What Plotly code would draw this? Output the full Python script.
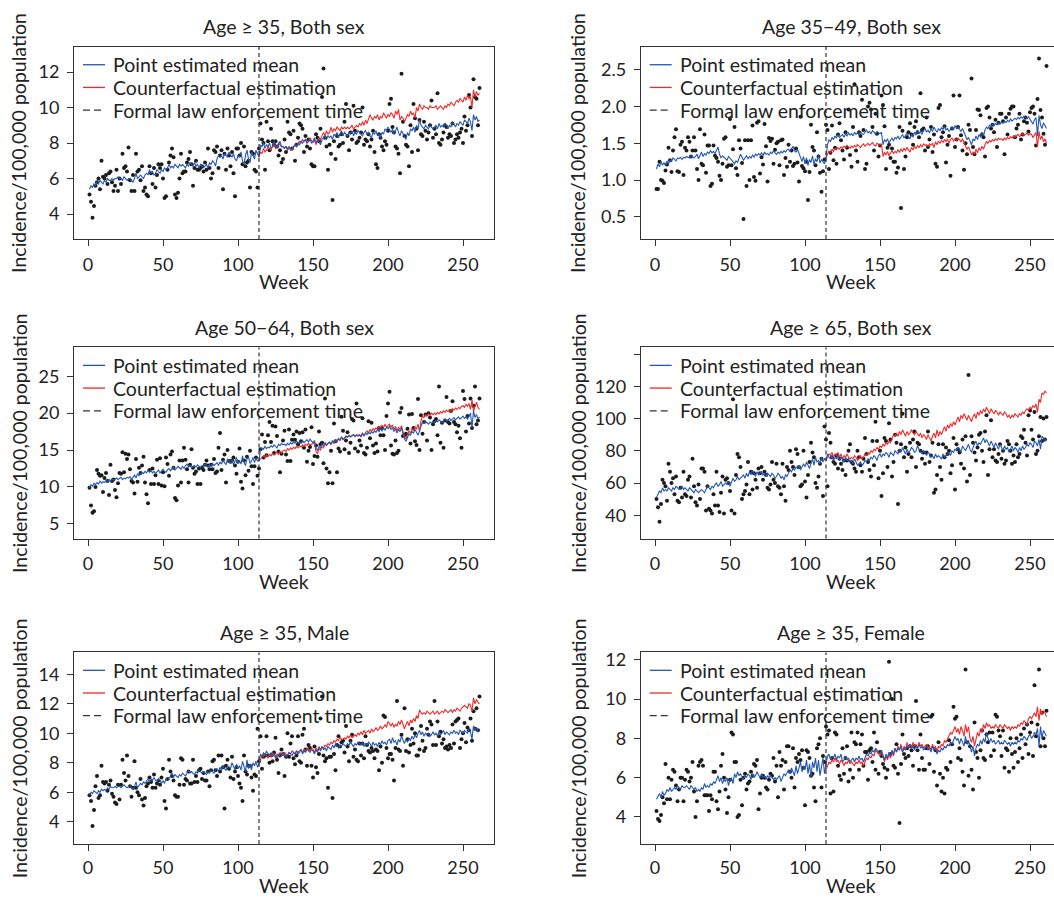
import plotly.graph_objects as go

# ---------------- data ----------------
WEEKS = list(range(1, 262))
ENFORCE_WEEK = 114          # formal law enforcement time
CF_START = 114              # counterfactual series starts here
X_TICKS = [0, 50, 100, 150, 200, 250]

TITLES = ["Age \u2265 35, Both sex", "Age 35\u221249, Both sex",
          "Age 50\u221264, Both sex", "Age \u2265 65, Both sex",
          "Age \u2265 35, Male", "Age \u2265 35, Female"]

# ---- Age >= 35, Both sex ----
OBS_ALL = [
    5.1, 4.7, 3.8, 4.45, 5.6, 5.8, 6.0, 5.4, 7.0, 6.1,
    6.0, 6.2, 5.7, 6.3, 6.4, 5.8, 5.3, 5.6, 6.5, 5.3,
    6.0, 5.7, 7.4, 6.6, 6.7, 6.4, 7.75, 5.9, 5.3, 6.2,
    5.3, 7.4, 6.4, 6.5, 5.9, 6.7, 5.3, 5.5, 5.1, 5.0,
    6.7, 6.3, 5.7, 6.6, 5.5, 6.2, 6.8, 6.6, 6.8, 6.0,
    4.9, 5.0, 6.5, 6.9, 7.3, 7.7, 7.2, 5.1, 4.9, 5.2,
    6.0, 7.4, 6.3, 6.4, 6.4, 6.9, 7.1, 7.5, 6.8, 5.6,
    6.6, 7.0, 6.5, 6.5, 6.6, 6.7, 6.4, 6.9, 6.5, 7.7,
    6.6, 6.0, 6.3, 7.6, 7.5, 7.8, 6.6, 7.3, 7.6, 5.4,
    7.4, 6.5, 7.7, 7.3, 6.7, 7.5, 6.3, 5.0, 7.7, 7.7,
    7.3, 8.0, 6.8, 7.8, 6.7, 6.9, 7.0, 5.5, 7.5, 7.4,
    6.5, 6.4, 5.5, 7.7,
    9.1, 8.2, 8.0, 6.5, 9.2, 8.1,
    7.6, 8.8, 8.1, 7.9, 8.1, 7.8, 7.3, 7.6, 6.9, 7.1,
    8.2, 7.5, 9.2, 8.6, 8.5, 7.7, 8.7, 7.0, 7.9, 8.3,
    9.1, 9.0, 8.8, 7.5, 8.4, 7.8, 8.2, 7.7, 6.8, 6.7,
    6.7, 8.5, 8.3, 8.1, 8.8, 10.6, 12.2, 8.3, 7.8, 6.5,
    7.9, 7.4, 4.8, 8.1, 7.1, 8.4, 7.8, 7.9, 8.5, 8.0,
    9.2, 10.2, 8.4, 7.6, 8.6, 8.2, 10.1, 8.7, 8.0, 8.1,
    8.3, 8.6, 10.0, 7.9, 8.2, 8.1, 8.5, 7.8, 8.2, 8.7,
    7.5, 6.8, 6.6, 8.5, 8.3, 7.8, 7.6, 8.1, 7.9, 8.7,
    10.2, 10.5, 8.9, 8.6, 7.8, 7.7, 7.4, 6.3, 11.9, 9.2,
    8.4, 7.9, 7.8, 6.7, 9.0, 7.5, 10.2, 9.4, 8.8, 7.6,
    9.3, 8.5, 8.4, 9.2, 8.7, 8.2, 8.6, 9.0, 10.4, 8.3,
    8.8, 8.5, 10.8, 8.0, 7.9, 8.2, 8.6, 9.0, 8.9, 8.3,
    8.5, 8.4, 9.1, 8.0, 8.2, 8.5, 8.3, 8.6, 8.8, 8.0,
    9.5, 8.7, 9.0, 10.7, 10.0, 8.4, 11.6, 10.6, 10.5, 9.0, 11.1]
MEAN_ALL = [
    5.4, 5.6, 5.5, 5.7, 5.6, 5.8, 5.7, 5.9, 5.8, 5.7,
    5.9, 5.8, 6.0, 5.9, 5.9, 6.0, 5.9, 6.0, 6.0, 6.1,
    6.0, 6.0, 5.9, 6.1, 6.0, 5.9, 6.0, 6.0, 5.9, 5.8,
    6.0, 6.3, 6.0, 6.1, 6.2, 6.1, 6.0, 6.2, 6.3, 6.2,
    6.5, 6.3, 6.4, 6.2, 6.3, 6.5, 6.4, 6.3, 6.5, 6.4,
    6.6, 6.5, 6.6, 6.8, 6.6, 6.7, 6.6, 6.8, 6.7, 6.6,
    6.8, 6.7, 6.8, 6.7, 6.6, 6.8, 6.7, 6.9, 6.8, 6.7,
    6.9, 6.7, 6.8, 6.6, 6.8, 6.7, 6.6, 6.7, 6.8, 6.6,
    6.9, 6.8, 7.0, 6.9, 6.7, 7.1, 7.3, 7.2, 7.3, 7.1,
    7.4, 7.3, 7.2, 7.5, 7.3, 7.2, 7.4, 7.1, 7.0, 7.3,
    7.2, 7.5, 7.0, 6.8, 7.3, 7.6, 7.1, 6.9, 7.5, 7.3,
    7.1, 7.6, 7.4, 7.2,
    7.9, 7.8, 8.0, 7.7, 7.9, 7.8,
    8.0, 7.7, 7.8, 8.1, 7.9, 7.7, 7.9, 8.1, 7.8, 7.8,
    7.7, 7.8, 7.7, 7.8, 7.6, 7.7, 7.8, 7.9, 7.8, 8.0,
    7.9, 8.1, 8.0, 8.1, 8.2, 8.0, 8.1, 8.2, 8.0, 8.1,
    8.3, 8.0, 8.2, 8.1, 7.9, 8.2, 8.3, 8.4, 8.2, 8.4,
    8.3, 8.4, 8.2, 8.5, 8.4, 8.6, 8.3, 8.5, 8.7, 8.4,
    8.6, 8.5, 8.4, 8.6, 8.5, 8.7, 8.4, 8.6, 8.5, 8.7,
    8.6, 8.5, 8.4, 8.6, 8.7, 8.5, 8.6, 8.4, 8.3, 8.6,
    8.5, 8.7, 8.4, 8.5, 8.3, 8.6, 8.5, 8.8, 8.7, 8.9,
    8.7, 8.6, 8.8, 8.5, 8.7, 8.9, 8.6, 8.4, 8.7, 8.5,
    8.3, 8.2, 8.6, 8.4, 8.8, 8.7, 8.9, 8.6, 9.0, 8.8,
    9.3, 9.0, 8.9, 8.8, 9.0, 8.9, 8.8, 9.0, 8.9, 8.8,
    8.9, 9.0, 8.8, 9.1, 8.9, 9.0, 8.9, 9.1, 9.0, 8.8,
    9.0, 8.9, 9.2, 9.0, 8.9, 9.1, 9.0, 9.2, 9.1, 9.0,
    9.3, 9.2, 9.1, 9.4, 9.2, 8.7, 9.6, 9.3, 9.5, 9.2, 9.3]
CF_ALL = [
    7.2,
    7.5, 7.4, 7.7, 7.5, 7.6, 7.8,
    7.7, 7.6, 7.8, 7.9, 7.7, 7.8, 8.0, 7.9, 7.8, 7.8,
    7.7, 7.8, 7.6, 7.7, 7.7, 7.6, 7.8, 7.9, 7.8, 8.0,
    8.1, 8.0, 8.2, 8.1, 8.2, 8.0, 8.1, 8.3, 8.1, 8.0,
    8.2, 7.9, 8.1, 8.3, 8.2, 8.4, 8.6, 8.4, 8.7, 8.5,
    8.6, 8.9, 8.6, 8.8, 8.7, 8.9, 8.8, 8.7, 8.9, 8.8,
    8.9, 8.8, 8.9, 8.8, 8.9, 9.0, 8.8, 8.9, 9.0, 8.9,
    9.1, 9.0, 9.2, 9.0, 9.3, 9.1, 9.3, 9.6, 9.4, 9.3,
    9.5, 9.4, 9.6, 9.3, 9.5, 9.4, 9.7, 9.5, 9.4, 9.6,
    9.5, 9.7, 9.6, 9.4, 9.8, 9.6, 9.9, 9.3, 9.5, 9.4,
    9.2, 9.4, 9.6, 9.5, 9.8, 9.6, 9.7, 9.4, 10.0, 9.8,
    10.2, 10.0, 9.9, 10.1, 10.0, 10.0, 9.9, 10.1, 10.0, 10.0,
    10.0, 10.1, 9.9, 10.0, 10.1, 10.0, 9.9, 10.1, 10.0, 10.2,
    10.1, 10.3, 10.2, 10.1, 10.3, 10.4, 10.3, 10.5, 10.4, 10.3,
    10.6, 10.4, 10.7, 10.5, 10.6, 10.0, 11.0, 10.6, 10.9, 10.7, 10.8]

# ---- Age 35-49, Both sex ----
OBS_3549 = [
    0.88, 0.88, 1.25, 1.00, 0.99, 0.96, 1.13, 1.21, 1.44, 1.27,
    1.11, 1.40, 1.58, 1.69, 1.12, 1.11, 1.48, 1.52, 1.07, 1.44,
    1.40, 1.58, 1.52, 1.32, 1.40, 1.58, 1.40, 1.15, 1.00, 1.69,
    1.22, 1.20, 1.62, 1.10, 1.47, 1.47, 0.92, 0.95, 1.47, 1.33,
    1.30, 1.25, 1.06, 1.00, 1.22, 1.56, 1.58, 1.18, 1.20, 1.83,
    1.20, 1.42, 1.72, 1.16, 1.07, 1.54, 1.43, 1.23, 0.47, 1.54,
    0.92, 1.54, 1.00, 1.54, 1.74, 1.04, 0.99, 1.78, 1.80, 1.09,
    1.31, 1.21, 1.76, 1.46, 0.98, 1.57, 1.53, 1.56, 1.22, 1.41,
    1.50, 1.52, 1.20, 1.54, 1.55, 1.07, 1.30, 1.18, 1.48, 1.25,
    1.40, 1.19, 1.22, 1.43, 1.24, 0.98, 1.86, 1.19, 1.16, 1.12,
    1.25, 0.73, 1.11, 1.75, 1.45, 1.40, 1.20, 1.65, 1.32, 1.10,
    0.84, 1.12, 1.28, 1.75,
    1.68, 1.15, 1.37, 1.74, 1.27, 1.44,
    1.22, 1.62, 1.77, 1.54, 1.40, 1.28, 1.65, 1.44, 1.96, 1.34,
    1.18, 1.72, 2.30, 1.40, 1.25, 1.65, 1.60, 2.09, 1.68, 1.15,
    1.22, 2.00, 2.05, 1.96, 1.72, 1.40, 1.90, 1.63, 1.32, 1.47,
    2.15, 2.02, 1.73, 1.15, 1.44, 1.48, 1.30, 1.43, 1.25, 1.25,
    1.10, 1.17, 1.72, 0.62, 1.67, 1.15, 1.32, 1.58, 1.65, 1.77,
    1.62, 1.48, 1.72, 1.80, 1.65, 1.58, 2.18, 1.68, 1.70, 1.40,
    1.85, 1.45, 1.55, 1.72, 1.38, 1.62, 1.22, 1.18, 1.98, 2.02,
    1.58, 1.65, 1.73, 1.24, 1.48, 1.60, 1.06, 1.70, 2.15, 1.45,
    1.55, 1.72, 2.15, 1.61, 1.40, 1.14, 1.50, 1.35, 1.75, 1.68,
    2.38, 1.45, 1.35, 1.68, 1.96, 1.95, 1.88, 1.62, 1.58, 1.32,
    1.98, 2.00, 1.85, 1.70, 1.75, 1.65, 1.82, 1.45, 1.78, 1.90,
    1.90, 1.80, 1.35, 1.85, 1.62, 1.90, 1.97, 2.00, 2.00, 1.58,
    1.70, 1.75, 1.90, 1.55, 1.62, 1.80, 1.85, 1.78, 1.66, 1.92,
    1.98, 2.00, 1.90, 1.47, 2.10, 2.65, 1.95, 1.85, 1.63, 1.48, 2.55]
MEAN_3549 = [
    1.15, 1.22, 1.18, 1.25, 1.20, 1.24, 1.19, 1.26, 1.22, 1.27,
    1.25, 1.30, 1.28, 1.26, 1.30, 1.29, 1.31, 1.28, 1.31, 1.30,
    1.32, 1.31, 1.30, 1.33, 1.31, 1.30, 1.32, 1.35, 1.29, 1.34,
    1.38, 1.32, 1.36, 1.34, 1.38, 1.36, 1.40, 1.37, 1.39, 1.36,
    1.42, 1.45, 1.35, 1.30, 1.33, 1.31, 1.29, 1.27, 1.32, 1.30,
    1.28, 1.25, 1.22, 1.26, 1.24, 1.30, 1.35, 1.31, 1.27, 1.30,
    1.33, 1.29, 1.32, 1.30, 1.34, 1.31, 1.35, 1.33, 1.36, 1.34,
    1.37, 1.33, 1.38, 1.35, 1.36, 1.34, 1.38, 1.36, 1.40, 1.37,
    1.35, 1.38, 1.36, 1.39, 1.37, 1.40, 1.38, 1.41, 1.42, 1.39,
    1.43, 1.46, 1.40, 1.38, 1.42, 1.36, 1.30, 1.25, 1.32, 1.22,
    1.30, 1.20, 1.28, 1.24, 1.33, 1.21, 1.29, 1.25, 1.35, 1.23,
    1.28, 1.25, 1.22, 1.30,
    1.48, 1.55, 1.52, 1.58, 1.55, 1.60,
    1.57, 1.62, 1.58, 1.60, 1.62, 1.58, 1.63, 1.60, 1.64, 1.61,
    1.63, 1.60, 1.65, 1.62, 1.64, 1.61, 1.66, 1.63, 1.62, 1.65,
    1.68, 1.64, 1.66, 1.63, 1.67, 1.65, 1.62, 1.66, 1.64, 1.63,
    1.65, 1.48, 1.55, 1.52, 1.56, 1.50, 1.54, 1.57, 1.53, 1.58,
    1.56, 1.60, 1.55, 1.58, 1.62, 1.57, 1.60, 1.64, 1.59, 1.56,
    1.62, 1.58, 1.65, 1.61, 1.68, 1.63, 1.66, 1.62, 1.67, 1.70,
    1.65, 1.68, 1.64, 1.70, 1.66, 1.72, 1.68, 1.65, 1.70, 1.67,
    1.71, 1.69, 1.73, 1.68, 1.70, 1.66, 1.69, 1.72, 1.68, 1.74,
    1.70, 1.72, 1.69, 1.66, 1.70, 1.65, 1.60, 1.55, 1.58, 1.52,
    1.48, 1.56, 1.53, 1.60, 1.55, 1.62, 1.58, 1.65, 1.60, 1.68,
    1.72, 1.70, 1.75, 1.72, 1.76, 1.74, 1.77, 1.75, 1.78, 1.76,
    1.79, 1.77, 1.80, 1.78, 1.81, 1.79, 1.83, 1.80, 1.82, 1.84,
    1.82, 1.85, 1.83, 1.86, 1.84, 1.87, 1.85, 1.83, 1.86, 1.82,
    1.80, 1.76, 1.82, 1.85, 1.60, 1.88, 1.75, 1.70, 1.78, 1.74, 1.70]
CF_3549 = [
    1.30,
    1.36, 1.40, 1.37, 1.42, 1.39, 1.43,
    1.41, 1.44, 1.42, 1.45, 1.43, 1.46, 1.44, 1.47, 1.45, 1.43,
    1.46, 1.44, 1.47, 1.45, 1.48, 1.46, 1.44, 1.47, 1.49, 1.46,
    1.48, 1.50, 1.47, 1.49, 1.51, 1.48, 1.46, 1.50, 1.48, 1.47,
    1.49, 1.32, 1.38, 1.34, 1.39, 1.33, 1.37, 1.40, 1.36, 1.39,
    1.37, 1.41, 1.38, 1.42, 1.39, 1.43, 1.40, 1.44, 1.41, 1.38,
    1.44, 1.41, 1.46, 1.43, 1.47, 1.44, 1.48, 1.45, 1.49, 1.47,
    1.48, 1.46, 1.49, 1.47, 1.50, 1.44, 1.52, 1.48, 1.53, 1.50,
    1.54, 1.51, 1.55, 1.52, 1.56, 1.50, 1.55, 1.57, 1.53, 1.56,
    1.54, 1.57, 1.55, 1.52, 1.56, 1.50, 1.46, 1.42, 1.45, 1.40,
    1.34, 1.38, 1.35, 1.42, 1.37, 1.44, 1.40, 1.46, 1.42, 1.48,
    1.52, 1.50, 1.54, 1.52, 1.55, 1.53, 1.56, 1.54, 1.57, 1.55,
    1.56, 1.54, 1.57, 1.55, 1.58, 1.56, 1.59, 1.57, 1.60, 1.58,
    1.60, 1.62, 1.59, 1.61, 1.63, 1.60, 1.62, 1.64, 1.61, 1.63,
    1.62, 1.58, 1.61, 1.65, 1.45, 1.66, 1.55, 1.60, 1.52, 1.56, 1.50]

# ---- Age 50-64, Both sex ----
OBS_5064 = [
    9.9, 7.5, 6.5, 6.7, 10.0, 12.3, 11.8, 11.5, 11.6, 9.3,
    11.2, 11.9, 10.8, 8.9, 13.0, 10.8, 11.0, 9.6, 8.6, 10.5,
    11.9, 11.8, 14.7, 12.0, 14.5, 13.8, 14.4, 12.4, 10.8, 10.6,
    9.1, 13.8, 10.7, 12.6, 11.9, 12.9, 14.1, 10.6, 9.0, 7.8,
    12.3, 10.4, 12.5, 10.4, 11.6, 13.7, 10.4, 13.9, 10.2, 12.0,
    10.1, 14.0, 13.1, 11.5, 14.4, 14.8, 12.6, 8.5, 8.2, 10.2,
    13.6, 10.6, 13.6, 15.3, 13.7, 12.4, 10.6, 13.0, 15.1, 12.6,
    11.8, 12.1, 10.4, 12.5, 10.4, 12.6, 12.3, 13.0, 13.6, 12.9,
    12.4, 13.0, 12.4, 13.8, 11.9, 12.1, 15.3, 17.3, 12.3, 13.7,
    14.4, 10.6, 15.0, 13.5, 13.4, 13.6, 14.0, 12.9, 11.8, 13.4,
    15.2, 10.7, 9.8, 13.6, 11.6, 14.1, 12.2, 14.9, 12.8, 10.4,
    12.8, 14.0, 11.5, 12.5,
    15.1, 17.1, 14.0, 16.1, 14.3, 17.0,
    18.8, 16.1, 18.3, 14.6, 18.2, 16.9, 14.8, 12.0, 14.5, 16.3,
    17.6, 14.4, 13.5, 17.8, 13.5, 16.4, 17.1, 16.4, 17.5, 15.8,
    17.3, 16.2, 17.4, 15.3, 17.8, 13.4, 14.9, 15.4, 18.1, 13.1,
    14.2, 15.6, 14.1, 17.5, 15.8, 16.0, 13.2, 22.0, 12.5, 10.5,
    12.0, 14.9, 10.5, 18.6, 16.2, 12.0, 15.2, 14.8, 19.5, 17.6,
    15.1, 16.3, 17.4, 14.6, 16.0, 19.2, 19.0, 15.2, 21.3, 14.8,
    16.3, 15.6, 19.3, 14.6, 14.4, 15.3, 18.9, 16.6, 18.7, 15.6,
    14.6, 15.9, 14.8, 18.0, 17.0, 18.0, 17.0, 15.0, 19.6, 21.3,
    22.9, 15.6, 14.5, 14.4, 16.3, 14.6, 14.9, 20.1, 20.7, 16.9,
    17.0, 17.2, 17.9, 19.8, 15.9, 19.9, 18.0, 16.2, 15.7, 21.9,
    15.0, 19.7, 17.2, 18.8, 19.8, 16.3, 20.0, 19.4, 15.0, 18.5,
    18.9, 19.2, 17.0, 23.6, 16.0, 18.7, 15.3, 19.0, 22.2, 18.8,
    18.6, 20.3, 21.6, 18.8, 18.5, 17.4, 18.3, 16.6, 15.3, 23.0,
    21.9, 17.5, 19.6, 18.6, 22.0, 18.0, 21.0, 23.6, 18.5, 19.0, 22.0]
MEAN_5064 = [
    9.9, 10.3, 10.1, 10.5, 10.3, 10.6, 10.4, 10.8, 10.5, 10.7,
    10.6, 10.9, 10.7, 11.0, 10.8, 11.1, 10.9, 11.0, 11.2, 11.0,
    11.1, 11.3, 11.0, 11.2, 11.1, 11.3, 11.2, 11.4, 11.0, 11.3,
    11.6, 11.2, 11.8, 11.5, 11.7, 12.0, 11.8, 12.1, 11.9, 12.3,
    12.0, 12.2, 11.9, 12.1, 11.8, 12.0, 12.3, 11.9, 12.2, 12.4,
    12.1, 12.0, 12.3, 12.5, 12.2, 12.4, 12.7, 12.3, 12.5, 12.8,
    12.6, 12.4, 12.8, 12.5, 12.9, 13.1, 12.7, 12.9, 12.6, 12.8,
    12.9, 12.7, 13.0, 12.8, 12.6, 12.9, 12.8, 13.1, 12.9, 12.7,
    13.0, 12.8, 13.2, 12.9, 13.1, 13.3, 12.9, 13.4, 13.1, 13.6,
    13.3, 13.0, 13.8, 13.4, 13.2, 13.7, 13.0, 13.5, 14.0, 13.2,
    13.6, 13.1, 14.2, 13.3, 12.9, 13.8, 14.1, 13.2, 13.5, 14.0,
    13.3, 13.9, 13.5, 13.6,
    15.0, 15.3, 15.1, 15.5, 15.2, 15.4,
    15.3, 15.6, 15.4, 15.7, 15.5, 15.3, 15.8, 15.6, 15.9, 15.7,
    15.8, 15.6, 15.9, 15.7, 16.0, 15.8, 16.1, 15.9, 16.2, 16.0,
    16.1, 15.9, 16.3, 16.0, 16.2, 16.4, 16.1, 16.5, 16.2, 16.0,
    16.3, 15.2, 15.0, 15.5, 15.3, 15.8, 15.6, 16.0, 15.7, 15.9,
    16.1, 15.8, 16.3, 16.0, 16.4, 16.2, 16.6, 16.3, 16.8, 16.5,
    16.6, 16.9, 16.7, 17.0, 16.8, 16.9, 17.1, 16.8, 17.0, 16.9,
    17.0, 16.8, 17.2, 16.9, 17.3, 17.1, 17.4, 17.2, 17.5, 17.3,
    17.6, 17.4, 17.8, 17.5, 17.9, 17.6, 18.0, 17.7, 18.1, 17.9,
    18.2, 17.8, 18.0, 17.5, 17.9, 17.3, 17.8, 17.5, 18.0, 17.2,
    16.5, 16.2, 16.8, 17.2, 17.0, 17.5, 17.3, 17.8, 17.4, 17.0,
    17.6, 18.3, 18.8, 18.6, 18.9, 18.7, 18.5, 18.8, 18.6, 18.9,
    18.7, 19.0, 18.8, 19.1, 18.9, 18.7, 19.0, 19.2, 18.9, 19.1,
    19.3, 19.0, 19.2, 19.4, 19.1, 19.3, 19.5, 19.2, 19.4, 19.6,
    19.3, 19.5, 19.2, 19.6, 20.0, 18.0, 20.3, 19.4, 19.8, 19.2, 19.5]
CF_5064 = [
    13.6,
    13.8, 14.0, 14.2, 14.0, 14.3, 14.1,
    14.4, 14.2, 14.6, 14.3, 14.5, 14.7, 14.4, 14.8, 14.6, 14.9,
    15.0, 14.8, 15.2, 15.0, 15.3, 15.1, 15.4, 15.2, 15.5, 15.3,
    15.6, 15.4, 15.7, 15.5, 15.8, 15.6, 15.9, 15.7, 15.8, 15.9,
    16.0, 14.8, 14.5, 15.2, 15.0, 15.5, 15.3, 15.8, 15.6, 15.9,
    16.0, 15.7, 16.2, 15.9, 16.3, 16.1, 16.5, 16.3, 16.7, 16.4,
    16.6, 16.9, 16.7, 17.0, 16.8, 17.0, 17.1, 16.9, 17.1, 17.0,
    17.1, 16.9, 17.3, 17.0, 17.4, 17.6, 17.3, 17.8, 17.5, 17.9,
    17.7, 18.0, 17.8, 18.2, 17.9, 18.4, 18.0, 18.5, 18.1, 18.3,
    18.5, 18.1, 18.4, 17.8, 18.2, 17.6, 18.1, 17.8, 18.3, 17.5,
    16.8, 16.5, 17.1, 17.6, 17.3, 17.9, 17.6, 18.2, 17.8, 18.5,
    17.5, 19.0, 19.6, 19.4, 19.8, 19.6, 19.9, 19.7, 20.0, 19.8,
    20.0, 19.8, 20.1, 19.9, 20.2, 20.0, 20.3, 20.1, 20.4, 20.2,
    20.5, 20.2, 20.6, 20.4, 20.7, 20.5, 20.8, 20.6, 20.9, 21.0,
    20.8, 21.2, 20.9, 21.3, 20.5, 21.8, 20.2, 21.0, 21.5, 20.8, 20.5]

# ---- Age >= 65, Both sex ----
OBS_65 = [
    50, 45, 36, 47, 62, 60, 58, 49, 72, 67,
    60, 63, 53, 64, 49, 48, 57, 51, 67, 53,
    52, 62, 64, 51, 75, 58, 48, 46, 59, 50,
    69, 69, 67, 43, 58, 44, 43, 41, 53, 46,
    67, 46, 42, 54, 64, 41, 62, 63, 60, 55,
    43, 112, 41, 65, 78, 76, 70, 50, 53, 55,
    59, 73, 53, 67, 56, 66, 62, 57, 69, 66,
    70, 62, 67, 65, 57, 56, 59, 73, 62, 60,
    72, 58, 57, 53, 72, 58, 49, 70, 68, 80,
    73, 70, 65, 81, 78, 70, 58, 59, 80, 61,
    51, 65, 73, 85, 79, 76, 60, 57, 64, 72,
    75, 52, 95, 87,
    58, 91, 85, 76, 73, 72,
    77, 69, 75, 72, 68, 74, 65, 74, 80, 84,
    73, 72, 69, 67, 80, 76, 71, 67, 75, 88,
    78, 73, 68, 64, 86, 71, 98, 86, 63, 80,
    52, 66, 88, 86, 70, 97, 87, 64, 73, 90,
    85, 47, 80, 84, 103, 76, 82, 67, 78, 85,
    76, 87, 92, 70, 85, 84, 80, 75, 79, 72,
    79, 92, 73, 77, 85, 54, 56, 65, 84, 70,
    62, 84, 76, 82, 78, 80, 66, 71, 88, 56,
    84, 81, 79, 72, 87, 69, 89, 61, 127, 65,
    89, 85, 79, 74, 82, 90, 91, 80, 73, 92,
    102, 65, 81, 99, 76, 81, 74, 73, 78, 84,
    75, 80, 72, 74, 86, 84, 80, 72, 77, 73,
    84, 76, 78, 89, 88, 93, 85, 77, 102, 105,
    93, 87, 104, 78, 80, 89, 101, 86, 100, 87, 101]
MEAN_65 = [
    51, 53, 55, 54, 57, 55, 56, 55, 57, 56,
    55, 57, 56, 58, 57, 56, 57, 58, 56, 57,
    56, 55, 57, 56, 55, 54, 56, 55, 54, 55,
    56, 55, 54, 56, 58, 57, 56, 58, 57, 59,
    60, 58, 59, 61, 58, 59, 60, 59, 61, 58,
    60, 63, 61, 62, 64, 62, 63, 64, 65, 63,
    66, 64, 67, 65, 68, 66, 64, 67, 65, 66,
    67, 65, 66, 64, 66, 65, 64, 66, 65, 63,
    64, 66, 65, 63, 64, 62, 65, 64, 66, 68,
    67, 69, 68, 70, 69, 71, 68, 70, 72, 70,
    73, 71, 69, 72, 75, 71, 76, 73, 74, 72,
    76, 73, 75, 74,
    78, 76, 75, 77, 74, 76,
    75, 77, 74, 76, 75, 73, 76, 74, 75, 73,
    74, 72, 75, 73, 71, 72, 73, 71, 72, 74,
    73, 75, 74, 76, 75, 77, 76, 74, 77, 78,
    76, 78, 77, 79, 78, 76, 79, 78, 77, 80,
    79, 78, 81, 79, 82, 80, 78, 81, 79, 80,
    82, 81, 79, 80, 83, 81, 79, 78, 80, 79,
    77, 79, 78, 76, 77, 75, 78, 76, 77, 76,
    75, 78, 76, 77, 78, 79, 77, 80, 79, 81,
    80, 82, 81, 79, 83, 81, 80, 82, 84, 81,
    79, 82, 84, 86, 83, 85, 84, 86, 88, 85,
    87, 85, 83, 86, 84, 82, 85, 83, 81, 84,
    82, 80, 83, 81, 82, 79, 81, 83, 80, 82,
    81, 79, 82, 80, 83, 81, 82, 84, 83, 85,
    84, 82, 86, 85, 83, 87, 81, 89, 88, 86, 87]
CF_65 = [
    74,
    76, 78, 77, 79, 76, 78,
    77, 79, 76, 78, 75, 77, 76, 78, 76, 75,
    76, 75, 77, 76, 74, 75, 77, 75, 76, 78,
    77, 79, 78, 80, 79, 81, 80, 82, 81, 83,
    82, 84, 83, 85, 84, 86, 85, 88, 90, 89,
    91, 89, 92, 90, 93, 91, 89, 92, 90, 91,
    93, 91, 90, 92, 90, 89, 91, 88, 90, 89,
    87, 90, 88, 86, 89, 91, 88, 93, 89, 92,
    90, 93, 95, 92, 96, 94, 97, 95, 98, 96,
    99, 101, 98, 102, 100, 103, 101, 99, 102, 100,
    98, 101, 103, 100, 104, 102, 105, 103, 106, 104,
    107, 105, 103, 106, 104, 103, 105, 104, 102, 104,
    103, 102, 104, 103, 101, 102, 100, 102, 101, 103,
    102, 101, 103, 102, 104, 103, 105, 106, 105, 107,
    106, 108, 107, 109, 104, 112, 110, 116, 115, 117, 116]

# ---- Age >= 35, Male ----
OBS_M = [
    5.8, 5.4, 3.7, 4.8, 6.4, 7.1, 5.6, 5.8, 7.8, 6.7,
    6.6, 6.7, 6.1, 6.5, 6.8, 5.9, 5.7, 5.3, 5.2, 6.5,
    5.5, 6.5, 8.2, 7.3, 6.8, 8.5, 7.1, 6.4, 5.7, 6.3,
    8.1, 6.3, 6.0, 5.8, 6.9, 5.5, 5.1, 5.6, 6.4, 6.6,
    7.0, 6.7, 6.3, 7.2, 6.3, 6.6, 6.8, 6.5, 7.0, 7.6,
    5.4, 4.9, 6.9, 8.2, 7.4, 7.1, 6.8, 5.8, 5.7, 5.7,
    6.5, 8.3, 8.2, 6.5, 6.9, 6.8, 7.4, 6.6, 6.6, 8.2,
    6.7, 7.1, 6.7, 7.5, 7.6, 6.9, 7.3, 6.8, 6.8, 7.4,
    6.4, 7.5, 8.1, 8.2, 7.5, 7.1, 8.5, 7.4, 8.5, 7.7,
    4.9, 7.8, 8.2, 7.6, 7.0, 8.4, 6.9, 7.4, 7.7, 7.1,
    6.6, 6.3, 5.4, 8.5, 7.4, 7.2, 7.8, 7.8, 7.0, 6.1,
    7.2, 7.1, 10.3, 8.1,
    9.8, 7.6, 8.4, 8.5, 9.8, 8.5,
    8.0, 8.5, 8.1, 8.7, 9.7, 8.2, 7.3, 8.5, 8.9, 8.6,
    7.1, 8.4, 10.0, 8.4, 9.3, 9.8, 8.3, 7.9, 8.5, 9.8,
    8.1, 8.0, 9.9, 10.3, 8.9, 7.8, 9.2, 9.0, 7.8, 7.0,
    9.1, 7.7, 7.3, 8.6, 11.0, 12.5, 8.5, 8.1, 8.3, 6.3,
    8.4, 8.4, 5.6, 8.6, 7.5, 9.2, 9.8, 9.1, 9.4, 9.5,
    8.7, 10.5, 9.1, 8.1, 9.5, 9.9, 8.4, 8.9, 8.2, 8.1,
    9.3, 8.5, 9.3, 8.3, 9.8, 9.2, 8.8, 8.7, 9.0, 8.8,
    8.3, 8.9, 8.8, 7.5, 9.1, 8.0, 11.2, 11.1, 9.0, 8.3,
    8.6, 8.6, 8.2, 6.8, 9.0, 12.2, 8.9, 8.8, 9.9, 7.8,
    11.7, 8.8, 9.6, 8.7, 9.2, 10.3, 9.3, 10.0, 8.5, 8.5,
    8.9, 10.5, 9.5, 8.8, 9.0, 10.3, 9.9, 10.8, 10.6, 9.2,
    12.2, 9.2, 10.8, 9.8, 10.1, 9.3, 9.6, 9.0, 9.1, 8.9,
    9.2, 9.0, 10.6, 9.3, 10.8, 10.9, 11.0, 9.0, 9.6, 10.0,
    10.7, 9.4, 10.4, 10.2, 11.0, 9.5, 11.5, 10.3, 11.7, 10.2, 12.5]
MEAN_M = [
    5.8, 6.0, 5.9, 6.1, 6.0, 5.9, 6.1, 6.0, 6.2, 6.1,
    6.2, 6.1, 6.3, 6.2, 6.4, 6.3, 6.3, 6.4, 6.3, 6.4,
    6.4, 6.3, 6.4, 6.5, 6.4, 6.3, 6.4, 6.4, 6.3, 6.2,
    6.4, 6.7, 6.3, 6.5, 6.6, 6.5, 6.7, 6.6, 6.8, 6.9,
    6.7, 6.9, 6.8, 7.0, 6.8, 6.7, 6.9, 6.8, 6.6, 6.8,
    6.6, 6.9, 7.0, 6.9, 7.1, 7.3, 7.0, 7.2, 7.1, 7.0,
    7.2, 7.1, 7.3, 7.2, 7.1, 7.3, 7.5, 7.3, 7.4, 7.3,
    7.2, 7.4, 7.3, 7.5, 7.4, 7.3, 7.4, 7.3, 7.2, 7.4,
    7.3, 7.5, 7.4, 7.3, 7.5, 7.6, 7.4, 7.7, 7.5, 7.8,
    7.6, 7.5, 7.8, 7.7, 7.6, 8.0, 7.7, 7.5, 7.9, 7.6,
    7.8, 7.5, 8.1, 7.7, 7.4, 8.2, 7.6, 7.9, 7.5, 8.0,
    7.8, 8.1, 7.7, 7.9,
    8.6, 8.4, 8.7, 8.5, 8.8, 8.6,
    8.5, 8.7, 8.4, 8.6, 8.5, 8.3, 8.6, 8.4, 8.5, 8.7,
    8.6, 8.4, 8.5, 8.7, 8.6, 8.5, 8.7, 8.6, 8.8, 8.6,
    8.7, 8.9, 8.6, 8.8, 8.7, 8.9, 8.8, 8.7, 8.9, 8.8,
    8.6, 8.9, 8.7, 9.0, 8.8, 9.1, 8.9, 9.0, 8.8, 9.1,
    9.0, 8.9, 9.2, 9.0, 9.3, 9.1, 9.0, 9.2, 9.1, 9.3,
    9.2, 9.1, 9.3, 9.2, 9.4, 9.2, 9.1, 9.3, 9.2, 9.4,
    9.3, 9.2, 9.4, 9.1, 9.3, 9.2, 9.4, 9.3, 9.1, 9.4,
    9.2, 9.3, 9.1, 9.4, 9.2, 9.5, 9.3, 9.4, 9.2, 9.5,
    9.6, 9.3, 9.7, 9.4, 9.5, 9.2, 9.6, 9.4, 9.8, 9.5,
    9.3, 9.6, 9.4, 9.7, 9.5, 9.8, 9.6, 9.9, 9.7, 10.0,
    10.2, 9.9, 10.1, 9.8, 10.0, 9.9, 10.0, 9.8, 9.9, 10.1,
    9.9, 10.0, 9.8, 10.1, 9.9, 10.0, 10.2, 9.9, 10.1, 10.0,
    9.9, 10.1, 10.0, 10.2, 10.0, 10.1, 9.9, 10.2, 10.1, 10.0,
    10.2, 10.1, 10.0, 10.3, 10.1, 9.6, 10.5, 10.2, 10.4, 10.1, 10.2]
CF_M = [
    7.9,
    8.3, 8.5, 8.4, 8.6, 8.5, 8.3,
    8.6, 8.4, 8.7, 8.5, 8.3, 8.6, 8.5, 8.7, 8.6, 8.5,
    8.7, 8.6, 8.5, 8.7, 8.6, 8.8, 8.7, 8.6, 8.8, 8.7,
    8.8, 8.9, 8.7, 8.9, 8.8, 9.0, 8.9, 8.8, 9.0, 8.9,
    8.7, 9.0, 8.8, 9.1, 8.9, 9.1, 9.0, 9.2, 9.1, 9.3,
    9.2, 9.4, 9.3, 9.5, 9.4, 9.6, 9.5, 9.7, 9.6, 9.6,
    9.7, 9.6, 9.8, 9.7, 9.9, 9.7, 9.8, 9.9, 9.8, 10.0,
    9.9, 10.1, 9.9, 10.2, 10.0, 10.1, 10.2, 10.0, 10.3, 10.1,
    10.2, 10.4, 10.2, 10.3, 10.5, 10.3, 10.4, 10.6, 10.4, 10.8,
    10.6, 10.5, 10.7, 10.4, 10.6, 10.5, 10.8, 10.6, 10.9, 10.5,
    10.3, 10.6, 10.8, 10.5, 10.9, 10.7, 11.0, 10.8, 11.2, 11.0,
    11.6, 11.4, 11.3, 11.4, 11.3, 11.5, 11.4, 11.3, 11.4, 11.5,
    11.3, 11.4, 11.5, 11.3, 11.4, 11.5, 11.4, 11.6, 11.5, 11.4,
    11.5, 11.6, 11.4, 11.6, 11.5, 11.7, 11.6, 11.5, 11.7, 11.8,
    11.9, 11.8, 11.7, 12.0, 11.9, 11.5, 12.4, 12.0, 12.3, 12.1, 12.0]

# ---- Age >= 35, Female ----
OBS_F = [
    4.3, 3.9, 3.8, 4.1, 5.0, 4.7, 6.7, 4.9, 6.0, 4.9,
    5.9, 6.4, 6.3, 5.6, 4.8, 5.4, 6.0, 6.0, 4.8, 5.9,
    6.4, 6.3, 5.8, 6.0, 6.8, 5.3, 4.0, 4.8, 6.6, 6.8,
    6.9, 6.6, 5.1, 5.1, 5.1, 4.3, 5.1, 4.9, 6.3, 6.3,
    4.8, 4.4, 5.3, 6.6, 7.2, 6.0, 5.4, 4.2, 5.0, 5.9,
    8.3, 8.2, 6.8, 6.8, 4.0, 4.1, 5.9, 4.6, 6.0, 6.2,
    5.4, 5.7, 5.8, 6.3, 6.1, 6.7, 6.6, 6.9, 4.4, 5.2,
    6.0, 6.1, 6.0, 5.5, 5.4, 5.9, 6.2, 6.1, 7.0, 5.8,
    6.6, 5.0, 7.3, 6.6, 6.9, 5.4, 6.8, 7.6, 7.6, 6.3,
    6.0, 7.5, 5.5, 7.0, 6.8, 7.2, 6.9, 7.4, 6.5, 4.6,
    7.4, 7.3, 7.0, 6.1, 6.2, 5.5, 4.8, 7.5, 7.7, 8.0,
    5.5, 7.1, 6.8, 8.6,
    8.2, 8.4, 5.2, 7.0, 5.3, 8.3,
    8.2, 6.6, 6.1, 5.9, 7.5, 6.2, 7.0, 7.6, 5.8, 6.4,
    8.3, 6.0, 7.8, 7.7, 8.3, 6.4, 7.7, 8.2, 6.6, 7.3,
    7.3, 5.9, 7.4, 7.5, 6.8, 8.3, 6.4, 7.8, 6.2, 7.3,
    7.1, 6.7, 6.5, 6.0, 6.4, 11.9, 7.2, 10.0, 6.6, 6.5,
    7.7, 6.2, 3.7, 6.7, 8.2, 7.2, 7.0, 7.5, 7.1, 7.6,
    7.4, 6.6, 7.6, 9.9, 7.4, 6.4, 8.2, 7.0, 6.4, 6.4,
    7.5, 7.6, 6.7, 9.1, 9.2, 6.3, 7.4, 5.6, 7.8, 6.2,
    5.3, 6.0, 5.2, 6.5, 6.4, 7.9, 6.8, 7.7, 9.6, 9.0,
    9.1, 7.0, 7.5, 6.9, 6.3, 5.6, 11.5, 7.8, 6.1, 7.6,
    6.4, 5.4, 8.8, 7.3, 7.0, 6.0, 7.4, 8.4, 7.0, 6.9,
    8.2, 7.8, 8.3, 7.1, 8.3, 7.4, 9.2, 9.1, 8.4, 8.1,
    7.1, 8.4, 6.5, 7.5, 7.4, 6.3, 8.0, 7.2, 6.5, 7.3,
    8.0, 6.8, 7.5, 8.2, 7.0, 8.5, 7.7, 8.7, 7.2, 8.3,
    8.8, 7.1, 10.7, 8.1, 8.7, 11.5, 7.6, 9.3, 8.0, 7.6, 9.4]
MEAN_F = [
    4.9, 5.1, 5.2, 5.0, 5.3, 5.1, 5.2, 5.4, 5.3, 5.5,
    5.3, 5.4, 5.5, 5.4, 5.6, 5.5, 5.4, 5.6, 5.5, 5.5,
    5.6, 5.5, 5.4, 5.6, 5.5, 5.4, 5.5, 5.3, 5.4, 5.3,
    5.5, 5.4, 5.7, 5.5, 5.6, 5.5, 5.7, 5.6, 5.8, 5.7,
    5.9, 6.1, 5.8, 6.0, 5.7, 5.9, 5.8, 6.0, 5.6, 5.9,
    6.0, 5.7, 6.2, 6.0, 6.3, 6.1, 6.2, 6.0, 5.9, 6.1,
    6.0, 6.2, 6.1, 5.9, 6.2, 6.0, 6.1, 6.3, 6.1, 6.0,
    6.2, 6.0, 6.1, 5.9, 6.1, 6.0, 6.1, 6.0, 5.9, 6.0,
    5.9, 6.0, 6.1, 5.8, 6.0, 6.2, 6.1, 6.3, 6.4, 6.2,
    6.5, 6.3, 6.1, 6.6, 6.2, 6.5, 6.8, 6.3, 6.6, 6.4,
    6.9, 6.2, 6.7, 6.0, 6.8, 6.5, 7.0, 6.3, 6.9, 6.1,
    6.7, 7.0, 6.2, 6.8,
    7.1, 7.2, 6.9, 7.1, 7.0, 7.2,
    6.9, 7.1, 7.0, 7.2, 6.8, 6.9, 7.1, 6.9, 7.0, 6.8,
    6.9, 7.0, 6.8, 7.0, 6.9, 7.1, 6.9, 7.0, 6.8, 7.0,
    7.2, 7.1, 7.3, 7.2, 7.4, 7.3, 7.5, 7.4, 7.3, 7.2,
    7.4, 7.1, 6.9, 7.2, 7.0, 7.3, 7.1, 7.4, 7.2, 7.5,
    7.3, 7.5, 7.4, 7.6, 7.3, 7.5, 7.4, 7.6, 7.5, 7.7,
    7.5, 7.6, 7.4, 7.6, 7.5, 7.7, 7.5, 7.6, 7.4, 7.5,
    7.6, 7.4, 7.5, 7.3, 7.6, 7.4, 7.5, 7.2, 7.4, 7.3,
    7.5, 7.4, 7.6, 7.5, 7.7, 7.6, 7.8, 7.7, 7.9, 8.1,
    7.9, 8.0, 7.7, 8.0, 7.8, 7.6, 8.1, 7.7, 7.9, 7.5,
    7.3, 7.6, 7.1, 7.5, 7.7, 7.6, 7.9, 7.7, 8.0, 7.8,
    8.3, 8.0, 7.8, 8.0, 7.8, 7.9, 7.7, 7.8, 7.9, 7.7,
    7.8, 7.7, 7.9, 7.8, 7.7, 7.8, 7.6, 7.8, 7.7, 7.8,
    7.7, 7.9, 7.8, 8.0, 7.9, 8.1, 8.0, 7.9, 8.1, 8.2,
    8.0, 8.1, 8.3, 8.2, 8.5, 7.6, 8.6, 8.0, 8.4, 8.2, 8.1]
CF_F = [
    6.4,
    6.6, 6.8, 6.7, 6.9, 6.8, 7.0,
    6.8, 6.9, 6.7, 6.9, 6.8, 6.6, 6.8, 6.7, 6.9, 6.7,
    6.8, 6.7, 6.6, 6.8, 6.7, 6.9, 6.7, 6.8, 6.6, 6.8,
    7.0, 6.9, 7.1, 7.0, 7.2, 7.1, 7.4, 7.3, 7.2, 7.1,
    7.3, 7.0, 6.8, 7.1, 6.9, 7.2, 7.0, 7.3, 7.1, 7.5,
    7.3, 7.6, 7.4, 7.7, 7.3, 7.6, 7.4, 7.8, 7.5, 7.7,
    7.5, 7.8, 7.6, 7.7, 7.5, 7.8, 7.6, 7.7, 7.5, 7.6,
    7.7, 7.5, 7.6, 7.4, 7.7, 7.5, 7.6, 7.3, 7.6, 7.5,
    7.7, 7.6, 7.9, 7.8, 8.0, 8.1, 8.3, 8.2, 8.4, 8.6,
    8.3, 8.5, 8.2, 8.6, 8.4, 8.1, 8.7, 8.3, 8.6, 8.0,
    7.8, 8.1, 7.6, 8.0, 8.3, 8.1, 8.5, 8.3, 8.7, 8.5,
    8.8, 8.6, 8.7, 8.5, 8.6, 8.5, 8.7, 8.6, 8.5, 8.7,
    8.6, 8.5, 8.7, 8.6, 8.5, 8.6, 8.4, 8.6, 8.5, 8.6,
    8.5, 8.7, 8.6, 8.8, 8.7, 8.9, 8.8, 8.7, 9.0, 9.1,
    9.0, 9.2, 9.3, 9.1, 9.6, 8.9, 9.5, 9.2, 9.4, 9.3, 9.1]

PANELS = [
    (TITLES[0], OBS_ALL, MEAN_ALL, CF_ALL, [2.6, 13.42], [4, 6, 8, 10, 12], ["4", "6", "8", "10", "12"]),
    (TITLES[1], OBS_3549, MEAN_3549, CF_3549, [0.2, 2.81], [0.5, 1.0, 1.5, 2.0, 2.5], ["0.5", "1.0", "1.5", "2.0", "2.5"]),
    (TITLES[2], OBS_5064, MEAN_5064, CF_5064, [3.0, 28.9], [5, 10, 15, 20, 25], ["5", "10", "15", "20", "25"]),
    (TITLES[3], OBS_65, MEAN_65, CF_65, [25.5, 144.1], [40, 60, 80, 100, 120, 140], ["40", "60", "80", "100", "120", ""]),
    (TITLES[4], OBS_M, MEAN_M, CF_M, [2.49, 15.49], [4, 6, 8, 10, 12, 14], ["4", "6", "8", "10", "12", "14"]),
    (TITLES[5], OBS_F, MEAN_F, CF_F, [2.63, 12.37], [4, 6, 8, 10, 12], ["4", "6", "8", "10", "12"]),
]

for p in PANELS:
    assert len(p[1]) == 261 and len(p[2]) == 261 and len(p[3]) == 262 - CF_START, (p[0], len(p[1]), len(p[2]), len(p[3]))

# ---------------- layout / style ----------------
W, H = 1054, 898
FONT = "Lato, 'Open Sans', sans-serif"
FS = 19.5      # titles, legend, axis titles
FT = 18        # tick labels
TXT = "#222222"
AX = "#333333"
BLUE = "#2457b0"
RED = "#ee2a2a"

COLS = [dict(l=74, r=494, xr=[-9.33, 270.67], cx=284, ytx=19),
        dict(l=640.7, r=1054, xr=[-9.53, 266.0], cx=851, ytx=578)]
ROWS = [(43, 236), (345, 537), (651.3, 843.7)]


def px(x):
    return x / W


def py(y):
    return 1 - y / H


fig = go.Figure()
layout = dict(width=W, height=H, margin=dict(l=0, r=0, t=0, b=0),
              paper_bgcolor="white", plot_bgcolor="white", showlegend=False,
              font=dict(family=FONT, size=FS, color=TXT))
annotations = []
shapes = []
cf_weeks = WEEKS[CF_START - 1:]

for i, (title, obs, mean, cf, yr, tv, tt) in enumerate(PANELS):
    c = COLS[i % 2]
    r = i // 2
    top, bot = ROWS[r]
    n = "" if i == 0 else str(i + 1)
    xa, ya = "x" + n, "y" + n

    fig.add_trace(go.Scatter(x=WEEKS, y=obs, mode="markers", xaxis=xa, yaxis=ya,
                             marker=dict(size=4, color="#1c1c1c"), hoverinfo="skip"))
    fig.add_trace(go.Scatter(x=cf_weeks, y=cf, mode="lines", xaxis=xa, yaxis=ya,
                             line=dict(color=RED, width=1.1), hoverinfo="skip"))
    fig.add_trace(go.Scatter(x=WEEKS, y=mean, mode="lines", xaxis=xa, yaxis=ya,
                             line=dict(color=BLUE, width=1.1), hoverinfo="skip"))

    common = dict(showline=True, linecolor=AX, linewidth=1, ticks="outside", ticklen=6,
                  tickwidth=1, tickcolor=AX, showgrid=False, zeroline=False,
                  tickfont=dict(family=FONT, size=FT, color=TXT))
    layout["xaxis" + n] = dict(domain=[px(c["l"]), px(c["r"])], range=c["xr"], anchor=ya,
                               tickvals=X_TICKS, mirror=True,
                               ticklabelstandoff=(1 if r == 2 else 3), **common)
    layout["yaxis" + n] = dict(domain=[py(bot), py(top)], range=yr, anchor=xa,
                               tickvals=tv, ticktext=tt, mirror=(i % 2 == 0),
                               ticklabelstandoff=4, **common)

    # enforcement line
    shapes.append(dict(type="line", xref=xa, yref=ya + " domain", x0=ENFORCE_WEEK, x1=ENFORCE_WEEK,
                       y0=0, y1=1, line=dict(color="#333333", width=1.2, dash="4px,3px")))

    # titles & axis titles
    annotations.append(dict(text=title, x=px(c["cx"]), y=py(top - 20), xref="paper", yref="paper",
                            showarrow=False, xanchor="center", yanchor="middle",
                            font=dict(family=FONT, size=FS, color=TXT)))
    if r < 2:
        wk = dict(y=py(bot + 43), yanchor="middle")
    else:
        wk = dict(y=0, yanchor="bottom")
    annotations.append(dict(text="Week", x=px(c["cx"]), xref="paper", yref="paper",
                            showarrow=False, xanchor="center", borderpad=0,
                            font=dict(family=FONT, size=FS, color=TXT), **wk))
    annotations.append(dict(text="Incidence/100,000 population", x=px(c["ytx"]), y=py((top + bot) / 2),
                            xref="paper", yref="paper", showarrow=False, textangle=-90,
                            xanchor="center", yanchor="middle",
                            font=dict(family=FONT, size=FS, color=TXT)))

    # in-panel legend
    items = [("Point estimated mean", BLUE, "solid"),
             ("Counterfactual estimation", RED, "solid"),
             ("Formal law enforcement time", "#333333", "7px,4px")]
    for k, (lab, col, dash) in enumerate(items):
        yy = top + 18 + k * 22.8
        shapes.append(dict(type="line", xref="paper", yref="paper",
                           x0=px(c["l"] + 9), x1=px(c["l"] + 31), y0=py(yy), y1=py(yy),
                           line=dict(color=col, width=1.3, dash=dash)))
        annotations.append(dict(text=lab, x=px(c["l"] + 37), y=py(yy), xref="paper", yref="paper",
                                showarrow=False, xanchor="left", yanchor="middle",
                                font=dict(family=FONT, size=FS, color=TXT)))

layout["annotations"] = annotations
layout["shapes"] = shapes
fig.update_layout(**layout)

# remove the default page margin so the 1054x898 figure fills the window exactly
POST = ("document.body.style.margin='0px';"
        "var d=document.getElementById('{plot_id}');"
        "d.style.position='absolute';d.style.left='0px';d.style.top='0px';")
fig.write_html("out.html", post_script=POST, config={"displayModeBar": False})
